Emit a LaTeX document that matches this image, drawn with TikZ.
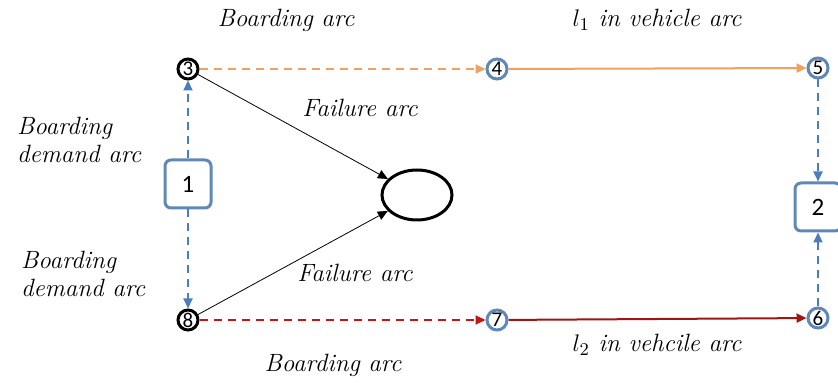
\documentclass[tikz,border=0pt]{standalone}
\usepackage{fontspec}
\usepackage{amsmath}
\newfontfamily\numfont{Carlito}
\usetikzlibrary{shapes,arrows.meta,calc,positioning}
\definecolor{arcorange}{RGB}{240,160,95}
\definecolor{arcblue}{RGB}{75,125,190}
\definecolor{circblue}{RGB}{95,135,185}
\definecolor{arcred}{RGB}{200,20,20}
\definecolor{arcdarkred}{RGB}{160,20,20}

\begin{document}
\begin{tikzpicture}[x=0.5pt,y=-0.5pt,>={Triangle[length=5pt,width=4.5pt]}]
		\tikzstyle{stop}=[draw,shape=circle,line width=1.5pt,inner sep=0pt,minimum size=10pt,font=\numfont\fontsize{10.5}{11}\selectfont]
		\tikzstyle{origin}=[stop,draw=black]
		\tikzstyle{transit}=[stop,draw=circblue]
		\tikzstyle{zone}=[draw=circblue,rounded corners=3pt,line width=1.5pt,minimum width=23pt,minimum height=24pt,font=\numfont\fontsize{12.5}{14}\selectfont]
		\tikzstyle{lbl}=[font=\fontsize{12.5}{14}\selectfont\itshape,align=left]
		\tikzstyle{dashline}=[dash pattern=on 4pt off 3pt,line width=1pt]
		\useasboundingbox (0,0) rectangle (838,383);

		\node[origin](n3) at (188,69){3};
		\node[transit](n4) at (497,69){4};
		\node[transit](n5) at (818,68){5};

		\node[zone](z1) at (188,184){1};
		\node[draw,ellipse,line width=1.5pt,minimum width=35pt,minimum height=25pt](fail) at (417,195){};
		\node[zone](z2) at (818,207){2};

		\node[origin](n8) at (188,320){8};
		\node[transit](n7) at (497,320){7};
		\node[transit](n6) at (818,318){6};

		\draw[->,dashline,arcorange] (n3) -- (n4);
		\draw[->,line width=1pt,arcorange] (n4) -- (n5);
		\draw[->,dashline,arcred] (n8) -- (n7);
		\draw[->,line width=1pt,arcdarkred] (n7) -- (n6);

		\draw[->,dashline,arcblue] (z1) -- (n3);
		\draw[->,dashline,arcblue] (z1) -- (n8);
		\draw[->,dashline,arcblue] (n5) -- (z2);
		\draw[->,dashline,arcblue] (n6) -- (z2);

		\draw[->,thin] (n3) -- (fail);
		\draw[->,thin] (n8) -- (fail);

		\node[lbl](t1) at (286,20){Boarding arc};
		\node[lbl](t2) at (657,20){$l_1$ in vehicle arc};
		\node[lbl](t3) at (360,108){Failure arc};
		\node[lbl,anchor=west](t4) at (10,140){Boarding\\demand arc};
		\node[lbl,anchor=west](t5) at (14,274){Boarding\\demand arc};
		\node[lbl](t6) at (355,273){Failure arc};
		\node[lbl](t7) at (657,345){$l_2$ in vehcile arc};
		\node[lbl](t8) at (333,365){Boarding arc};
	\end{tikzpicture}
\end{document}
